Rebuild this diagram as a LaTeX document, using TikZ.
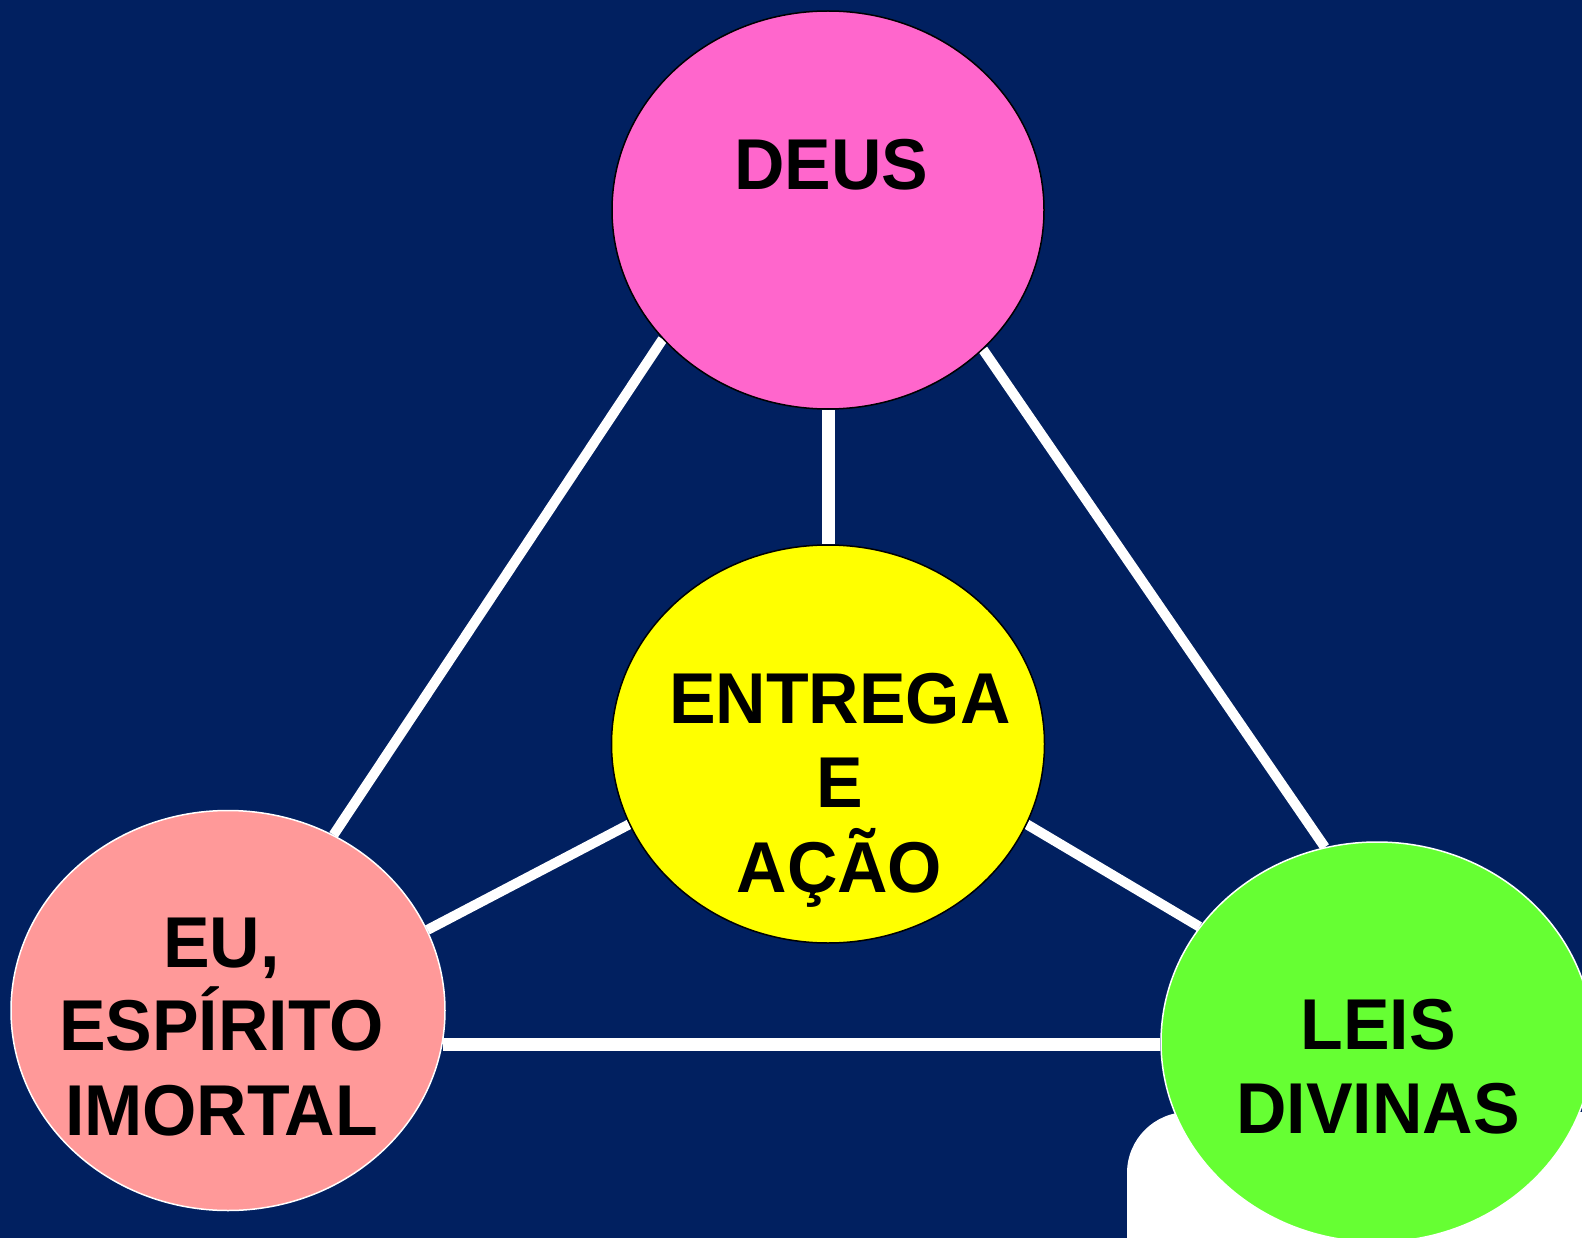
\documentclass[tikz,border=0pt]{standalone}
\usepackage{fontspec}
\setmainfont{Liberation Sans}
\newfontfamily\lab{Liberation Sans}[FakeStretch=0.97]
\usetikzlibrary{shapes.geometric}
\pgfdeclarelayer{back}
\pgfdeclarelayer{lines}
\pgfsetlayers{back,lines,main}
\definecolor{navy}{RGB}{1,32,96}
\definecolor{pinkdeus}{RGB}{255,102,204}
\definecolor{yellowact}{RGB}{255,255,0}
\definecolor{salmon}{RGB}{255,153,153}
\definecolor{greenleis}{RGB}{102,255,51}
\begin{document}
\begin{tikzpicture}[x=1pt,y=-1pt,
  bubble/.style={ellipse, inner sep=0pt, line width=1.5pt},
  word/.style={font=\lab\bfseries\fontsize{72}{84}\selectfont, anchor=base, inner sep=0pt, text=black},
  link/.style={draw=white, line width=10pt},
  thicklink/.style={draw=white, line width=13pt}]
\useasboundingbox (0,0) rectangle (1582,1238);
\begin{pgfonlayer}{back}
  \fill[navy] (0,0) rectangle (1582,1238);
  \fill[white] (1127,1238) -- (1127,1173) arc[start angle=180, end angle=270, radius=61] -- (1582,1112) -- (1582,1238) -- cycle;
\end{pgfonlayer}

% bubbles
\node[bubble, fill=pinkdeus, draw=black, minimum width=432pt, minimum height=398pt] (deus) at (828,210) {};
\node[bubble, fill=yellowact, draw=black, minimum width=433pt, minimum height=398pt] (act) at (828,744) {};
\node[bubble, fill=salmon, draw=white, minimum width=434pt, minimum height=400pt] (eu) at (228,1010.5) {};
\node[bubble, fill=greenleis, draw=white, minimum width=432pt, minimum height=400pt] (leis) at (1377,1042) {};

% texts
\node[word] (tdeus) at (831.5,190) {DEUS};
\node[word] (tact1) at (840,723) {ENTREGA};
\node[word] (tact2) at (840,807.5) {E};
\node[word] (tact3) at (839.5,892) {AÇÃO};
\node[word] (teu1) at (221.5,967) {EU,};
\node[word] (teu2) at (221.5,1050) {ESPÍRITO};
\node[word] (teu3) at (221.5,1135) {IMORTAL};
\node[word] (tleis1) at (1378,1049) {LEIS};
\node[word] (tleis2) at (1378,1133) {DIVINAS};

% connectors
\begin{pgfonlayer}{lines}
  \draw[link] (deus.218.5) -- (eu.59.3);
  \draw[link] (deus.318.1) -- (leis.105.5);
  \draw[thicklink] (deus.south) -- (act.north);
  \draw[link] (act.202.1) -- (eu.22.8);
  \draw[link] (act.338.2) -- (leis.147.9);
  \draw[thicklink] (eu.351.4) -- (leis.west |- eu.351.4);
\end{pgfonlayer}
\end{tikzpicture}
\end{document}
